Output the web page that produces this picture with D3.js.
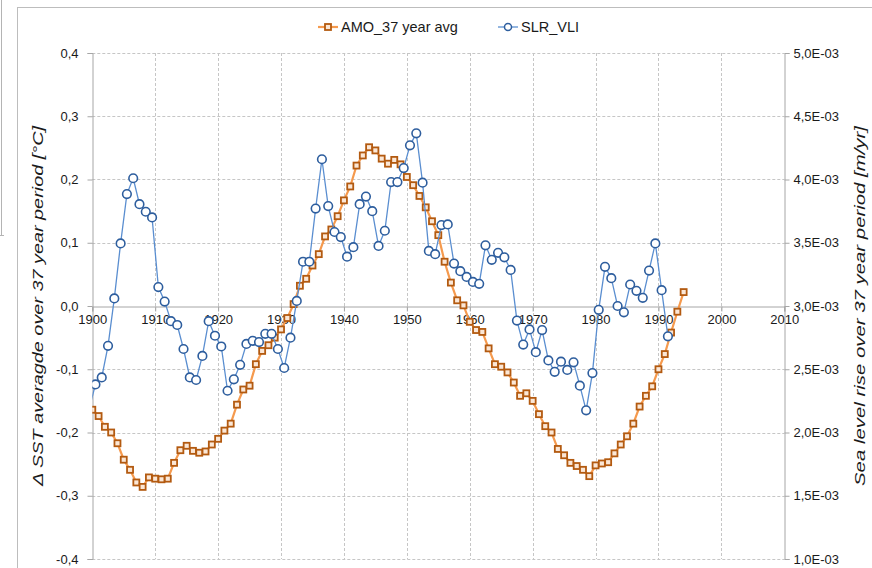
<!DOCTYPE html>
<html>
<head>
<meta charset="utf-8">
<script src="https://cdn.jsdelivr.net/npm/d3@7"></script>
<style>
  html, body { margin: 0; padding: 0; background: #fff; }
  svg { display: block; font-family: "Liberation Sans", Arial, sans-serif; }
</style>
</head>
<body>
<svg id="chart" width="872" height="568"></svg>
<script>
// AMO, 37-year running average of SST anomaly [°C], one value per year from 1900
const amoStartYear = 1900;
const amoValues = [
  -0.164, -0.174, -0.191, -0.200, -0.217, -0.243, -0.259, -0.279, -0.286, -0.271,
  -0.273, -0.274, -0.273, -0.248, -0.228, -0.221, -0.229, -0.232, -0.230, -0.219,
  -0.210, -0.197, -0.186, -0.156, -0.132, -0.126, -0.092, -0.071, -0.062, -0.050,
  -0.037, -0.019, 0.003, 0.032, 0.043, 0.064, 0.082, 0.110, 0.121, 0.142,
  0.167, 0.189, 0.222, 0.238, 0.251, 0.246, 0.233, 0.225, 0.231, 0.224,
  0.204, 0.191, 0.174, 0.156, 0.134, 0.112, 0.070, 0.037, 0.009, 0.001,
  -0.025, -0.038, -0.041, -0.067, -0.092, -0.096, -0.105, -0.121, -0.142, -0.138,
  -0.150, -0.171, -0.190, -0.200, -0.226, -0.236, -0.248, -0.253, -0.259, -0.269,
  -0.252, -0.249, -0.247, -0.233, -0.219, -0.206, -0.186, -0.159, -0.142, -0.127,
  -0.100, -0.076, -0.042, -0.009, 0.022
];

// SLR_VLI, sea level rise over 37-year period [m/yr], mid-year points from 1899.5
const slrStartYear = 1899.5;
const slrValues = [
  2.185e-3, 2.380e-3, 2.435e-3, 2.685e-3, 3.060e-3, 3.495e-3, 3.885e-3, 4.010e-3, 3.805e-3, 3.745e-3,
  3.700e-3, 3.150e-3, 3.035e-3, 2.880e-3, 2.850e-3, 2.660e-3, 2.435e-3, 2.415e-3, 2.605e-3, 2.880e-3,
  2.765e-3, 2.680e-3, 2.330e-3, 2.420e-3, 2.535e-3, 2.700e-3, 2.725e-3, 2.715e-3, 2.780e-3, 2.780e-3,
  2.660e-3, 2.510e-3, 2.750e-3, 3.040e-3, 3.350e-3, 3.350e-3, 3.770e-3, 4.160e-3, 3.790e-3, 3.585e-3,
  3.545e-3, 3.390e-3, 3.465e-3, 3.805e-3, 3.865e-3, 3.750e-3, 3.475e-3, 3.595e-3, 3.980e-3, 3.980e-3,
  4.090e-3, 4.270e-3, 4.365e-3, 3.975e-3, 3.435e-3, 3.410e-3, 3.640e-3, 3.645e-3, 3.335e-3, 3.275e-3,
  3.230e-3, 3.190e-3, 3.175e-3, 3.480e-3, 3.365e-3, 3.420e-3, 3.385e-3, 3.285e-3, 2.885e-3, 2.695e-3,
  2.815e-3, 2.635e-3, 2.810e-3, 2.570e-3, 2.480e-3, 2.560e-3, 2.495e-3, 2.555e-3, 2.370e-3, 2.175e-3,
  2.470e-3, 2.970e-3, 3.310e-3, 3.220e-3, 3.000e-3, 2.950e-3, 3.170e-3, 3.120e-3, 3.065e-3, 3.280e-3,
  3.495e-3, 3.125e-3, 2.760e-3
];

// Axis ticks
const xTicks = [1900, 1910, 1920, 1930, 1940, 1950, 1960, 1970, 1980, 1990, 2000, 2010];
const leftTicks = [-0.4, -0.3, -0.2, -0.1, 0.0, 0.1, 0.2, 0.3, 0.4];
const rightTicks = [1.0e-3, 1.5e-3, 2.0e-3, 2.5e-3, 3.0e-3, 3.5e-3, 4.0e-3, 4.5e-3, 5.0e-3];

const seriesNames = ["AMO_37 year avg", "SLR_VLI"];
const leftTitle = "\u0394 SST averagde over 37 year period  [°C]";
const rightTitle = "Sea level rise over 37 year period  [m/yr]";

const amoData = amoValues.map((v, i) => ({ x: amoStartYear + i, y: v }));
const slrData = slrValues.map((v, i) => ({ x: slrStartYear + i, y: v }));

// Layout
const plot = { left: 92.3, right: 784.3, top: 53, bottom: 559 };
const svg = d3.select("#chart");

const x = d3.scaleLinear().domain([1900, 2010]).range([plot.left, plot.right]);
const yL = d3.scaleLinear().domain([-0.4, 0.4]).range([plot.bottom, plot.top]);
const yR = d3.scaleLinear().domain([1.0e-3, 5.0e-3]).range([plot.bottom, plot.top]);

const textColor = "#1a1a1a";
const gridColor = "#c6c6c6";
const axisColor = "#a6a6a6";

// Outer frame
svg.append("line").attr("x1", 1.5).attr("x2", 1.5).attr("y1", 0).attr("y2", 235)
  .attr("stroke", "#b4b4b4").attr("stroke-width", 1);
svg.append("line").attr("x1", 0).attr("x2", 4).attr("y1", 235.5).attr("y2", 235.5)
  .attr("stroke", "#b4b4b4").attr("stroke-width", 1);
svg.append("rect").attr("x", 17.5).attr("y", 7.5).attr("width", 900).attr("height", 600)
  .attr("fill", "#fff").attr("stroke", "#bdbdbd").attr("stroke-width", 1);

// Gridlines
const grid = svg.append("g");
grid.selectAll(".hg").data(leftTicks.filter(t => t !== 0)).join("line")
  .attr("x1", plot.left).attr("x2", plot.right)
  .attr("y1", d => Math.round(yL(d)) + 0.5).attr("y2", d => Math.round(yL(d)) + 0.5)
  .attr("stroke", gridColor).attr("stroke-dasharray", "3,2");
grid.selectAll(".vg").data(xTicks.filter(t => t > 1900 && t < 2010)).join("line")
  .attr("x1", d => Math.round(x(d)) + 0.5).attr("x2", d => Math.round(x(d)) + 0.5)
  .attr("y1", plot.top).attr("y2", plot.bottom)
  .attr("stroke", gridColor).attr("stroke-dasharray", "3,2");

// Left axis
const leftAxis = d3.axisLeft(yL).tickValues(leftTicks).tickSize(5).tickPadding(9)
  .tickFormat(d => d3.format(".1f")(d).replace(".", ",").replace("\u2212", "-"));
const gL = svg.append("g").attr("transform", `translate(${Math.round(plot.left) + 0.5},0)`).call(leftAxis);

// Right axis
const rightAxis = d3.axisRight(yR).tickValues(rightTicks).tickSize(5).tickPadding(4)
  .tickFormat(d => (d * 1000).toFixed(1).replace(".", ",") + "E-03");
const gR = svg.append("g").attr("transform", `translate(${Math.round(plot.right) + 0.5},0)`).call(rightAxis);

// Horizontal axis along zero
const bottomAxis = d3.axisBottom(x).tickValues(xTicks).tickSize(5).tickPadding(5)
  .tickFormat(d3.format("d"));
const gX = svg.append("g").attr("transform", `translate(0,${Math.round(yL(0)) + 0.5})`).call(bottomAxis);

[gL, gR, gX].forEach(g => {
  g.select(".domain").attr("stroke", axisColor).attr("stroke-width", 1);
  g.selectAll(".tick line").attr("stroke", axisColor);
  g.selectAll(".tick text").attr("fill", textColor)
    .style("font-family", "'Liberation Sans', Arial, sans-serif").style("font-size", "13px");
});
gX.selectAll(".tick text").attr("dy", "0.6em");

// Axis titles
svg.append("text")
  .attr("transform", `translate(43,${(plot.top + plot.bottom) / 2}) rotate(-90)`)
  .attr("text-anchor", "middle").attr("fill", textColor)
  .attr("textLength", 360).attr("lengthAdjust", "spacingAndGlyphs")
  .style("font-size", "15.5px").style("font-style", "italic")
  .text(leftTitle);
svg.append("text")
  .attr("transform", `translate(865,${(plot.top + plot.bottom) / 2}) rotate(-90)`)
  .attr("text-anchor", "middle").attr("fill", textColor)
  .attr("textLength", 360).attr("lengthAdjust", "spacingAndGlyphs")
  .style("font-size", "15.5px").style("font-style", "italic")
  .text(rightTitle);

// Clip to the plot area
svg.append("clipPath").attr("id", "plotClip").append("rect")
  .attr("x", plot.left).attr("y", plot.top - 10)
  .attr("width", plot.right - plot.left).attr("height", plot.bottom - plot.top + 20);

const amoLineColor = "#f59a4e";
const amoMarkerStroke = "#b35a10";
const amoMarkerFill = "#fbe7d6";
const slrLineColor = "#5a8ed0";
const slrMarkerStroke = "#2e5e9e";

const series = svg.append("g").attr("clip-path", "url(#plotClip)");

// AMO line and square markers
series.append("path").datum(amoData)
  .attr("fill", "none").attr("stroke", amoLineColor).attr("stroke-width", 2.2)
  .attr("d", d3.line().x(d => x(d.x)).y(d => yL(d.y)));
series.append("g").selectAll("rect").data(amoData).join("rect")
  .attr("x", d => x(d.x) - 3).attr("y", d => yL(d.y) - 3)
  .attr("width", 6).attr("height", 6)
  .attr("fill", amoMarkerFill).attr("stroke", amoMarkerStroke).attr("stroke-width", 1.8);

// SLR line and circle markers
series.append("path").datum(slrData)
  .attr("fill", "none").attr("stroke", slrLineColor).attr("stroke-width", 1.3)
  .attr("d", d3.line().x(d => x(d.x)).y(d => yR(d.y)));
series.append("g").selectAll("circle").data(slrData.filter(d => d.x >= 1900)).join("circle")
  .attr("cx", d => x(d.x)).attr("cy", d => yR(d.y)).attr("r", 4.3)
  .attr("fill", "#fff").attr("stroke", slrMarkerStroke).attr("stroke-width", 1.6);

// Legend
const legend = svg.append("g").attr("transform", "translate(0,27)");
const l1 = legend.append("g").attr("transform", "translate(318,0)");
l1.append("line").attr("x1", 0).attr("x2", 20).attr("y1", 0).attr("y2", 0)
  .attr("stroke", amoLineColor).attr("stroke-width", 2.2);
l1.append("rect").attr("x", 7).attr("y", -3).attr("width", 6).attr("height", 6)
  .attr("fill", amoMarkerFill).attr("stroke", amoMarkerStroke).attr("stroke-width", 1.8);
l1.append("text").attr("x", 23).attr("y", 5).attr("fill", textColor)
  .style("font-size", "14.5px").text(seriesNames[0]);

const l2 = legend.append("g").attr("transform", "translate(498,0)");
l2.append("line").attr("x1", 0).attr("x2", 20).attr("y1", 0).attr("y2", 0)
  .attr("stroke", slrLineColor).attr("stroke-width", 1.3);
l2.append("circle").attr("cx", 10).attr("cy", 0).attr("r", 3.5)
  .attr("fill", "#fff").attr("stroke", slrMarkerStroke).attr("stroke-width", 1.5);
l2.append("text").attr("x", 23).attr("y", 5).attr("fill", textColor)
  .style("font-size", "14.5px").text(seriesNames[1]);
</script>
</body>
</html>
